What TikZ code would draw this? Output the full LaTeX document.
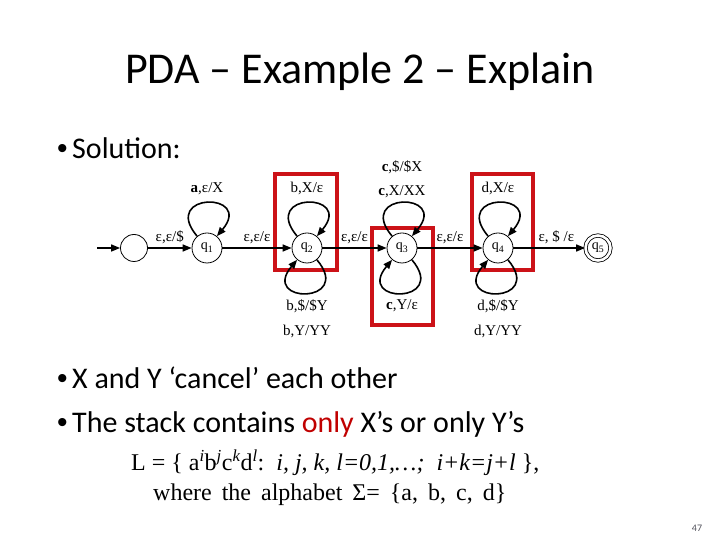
\documentclass[tikz,border=0pt]{standalone}
\usepackage{fontspec}
\setmainfont{Liberation Serif}
\newfontfamily\slidefont{Carlito}
\newfontfamily\dotfont{Liberation Sans}
\usetikzlibrary{arrows.meta}
\definecolor{boxred}{RGB}{204,18,24}
\definecolor{hotred}{RGB}{192,0,0}
\definecolor{pagegray}{RGB}{80,80,90}
\newcommand{\bul}{\makebox[15pt][l]{\dotfont •}}
\tikzset{
  >={Triangle[length=9pt,width=7pt]},
  state/.style={circle,draw,line width=0.8pt,minimum size=30pt,inner sep=0pt,
    font=\fontsize{14}{14}\selectfont},
  accept/.style={state,double,double distance=2.6pt,minimum size=25pt},
  flow/.style={->,line width=1.6pt},
  loopup/.style={flow,out=130,in=50,distance=58pt},
  loopdown/.style={flow,out=-50,in=-130,distance=58pt},
  tag/.style={font=\fontsize{15}{18}\selectfont,inner sep=1pt,align=center},
  hilite/.style={draw=boxred,line width=3.6pt},
  bullet/.style={font=\slidefont\fontsize{30}{30}\selectfont,anchor=base west,inner sep=0pt},
  formula/.style={font=\fontsize{24}{24}\selectfont,anchor=base west,inner sep=0pt},
}

\begin{document}
\begin{tikzpicture}[x=1pt,y=1pt]
  \useasboundingbox (0,0) rectangle (720,540);
  % slide text
  \node[font=\slidefont\fontsize{44}{44}\selectfont,anchor=base,inner sep=0pt] (title) at (360,456) {PDA – Example 2 – Explain};
  \node[bullet] (sol) at (57,381) {\bul Solution:};
  \node[bullet] (cancel) at (57,151) {\bul X and Y ‘cancel’ each other};
  \node[bullet] (stack) at (57,107) {\bul The stack contains \textcolor{hotred}{only} X’s or only Y’s};
  \node[formula] (lang) at (131,69) {L = \{ a\textsuperscript{\itshape i}b\textsuperscript{\itshape j}c\textsuperscript{\itshape k}d\textsuperscript{\itshape l}:\ \ \textit{i, j, k, l=0,1,…;\ \ i+k=j+l} \},};
  \node[formula] (alpha) at (153,39) {\spaceskip=10pt where the alphabet Σ= \{a, b, c, d\}};
  \node[font=\slidefont\fontsize{10}{10}\selectfont,text=pagegray] (page) at (697,12) {47};

  % red boxes
  \foreach \xa/\ya/\xb/\yb in {275/270/337/366, 372/215/433/312, 472/270/533/366}
    \draw[hilite] (\xa,\ya) rectangle (\xb,\yb);

  % states
  \node[state,minimum size=27pt] (q0) at (134,292) {};
  \foreach \n/\x in {1/207,2/307,3/402,4/498}
    \node[state] (q\n) at (\x,292) {q\textsubscript{\n}};
  \node[accept] (q5) at (598,292) {q\textsubscript{5}};
  \coordinate (in) at (97,292);

  % transitions
  \draw[flow] (in) -- (q0);
  \draw[flow] (q0) -- node[tag,above=2pt] {ε,ε/\$} (q1);
  \draw[flow] (q1) -- node[tag,above=2pt] {ε,ε/ε} (q2);
  \draw[flow] (q2) -- node[tag,above=2pt] {ε,ε/ε} (q3);
  \draw[flow] (q3) -- node[tag,above=2pt] {ε,ε/ε} (q4);
  \draw[flow] (q4) -- node[tag,above=2pt,pos=0.6] {ε, \$ /ε} (q5);

  % loops
  \draw[loopup] (q1) to node[tag,above=6pt] {\textbf{a},ε/X} (q1);
  \draw[loopup] (q2) to node[tag,above=6pt] {b,X/ε} (q2);
  \draw[loopup] (q3) to node[tag,above=3pt,font=\fontsize{15}{24}\selectfont] {\textbf{c},\$/\$X\\\textbf{c},X/XX} (q3);
  \draw[loopup] (q4) to node[tag,above=6pt] {d,X/ε} (q4);
  \draw[loopdown] (q2) to node[tag,below=5pt,font=\fontsize{15}{25}\selectfont] {b,\$/\$Y\\b,Y/YY} (q2);
  \draw[loopdown] (q3) to node[tag,below=5pt] {\textbf{c},Y/ε} (q3);
  \draw[loopdown] (q4) to node[tag,below=5pt,font=\fontsize{15}{25}\selectfont] {d,\$/\$Y\\d,Y/YY} (q4);
\end{tikzpicture}
\end{document}
